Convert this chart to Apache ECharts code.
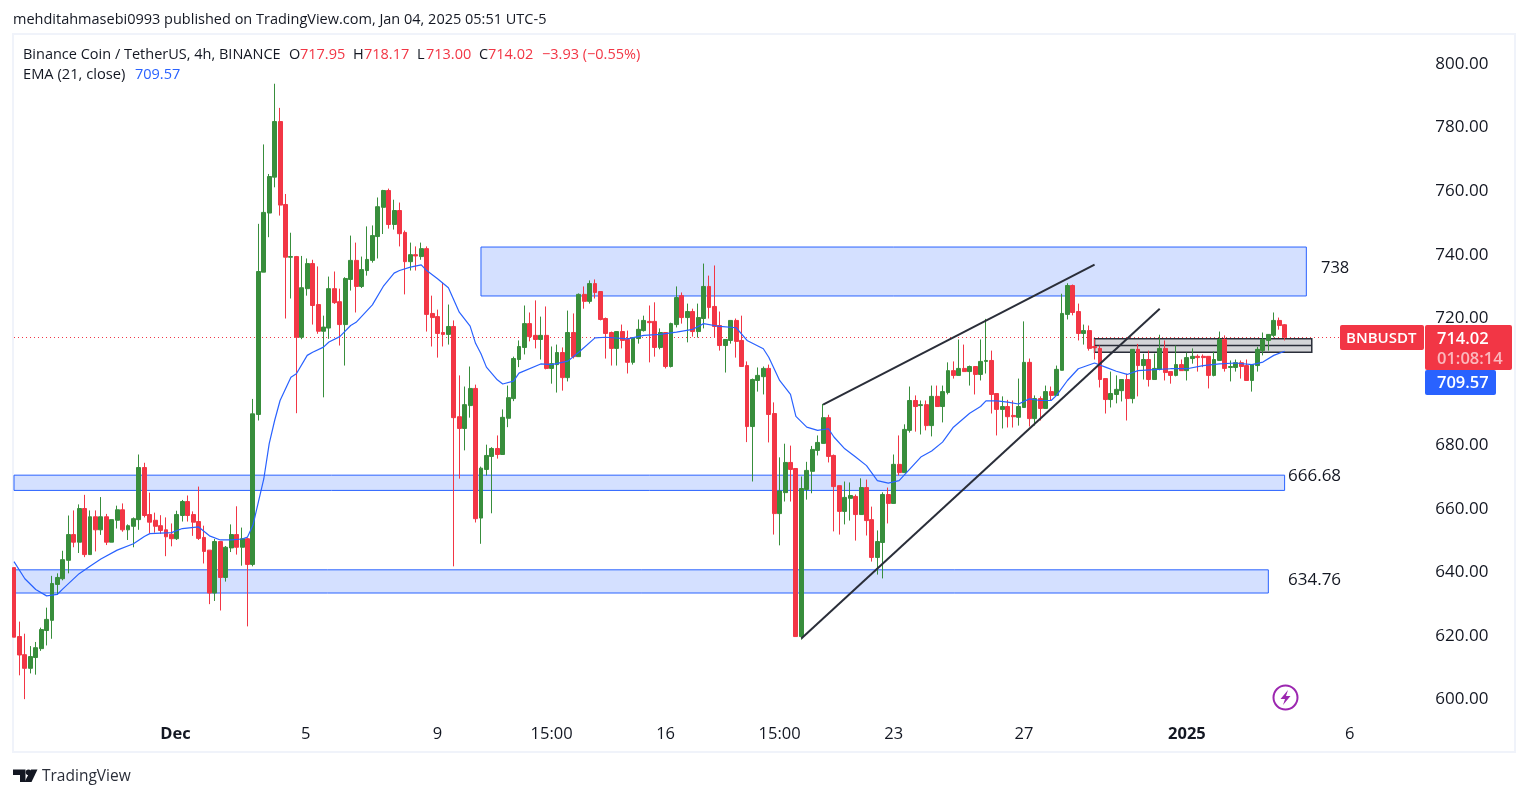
<!DOCTYPE html>
<html>
<head>
<meta charset="utf-8">
<style>html,body{margin:0;padding:0;background:#fff}#c{width:1529px;height:798px}</style>
<script src="https://cdn.jsdelivr.net/npm/echarts@6/dist/echarts.min.js"></script>
</head>
<body>
<div id="c"></div>
<script>
const opens = [
641.5,619.8,614.1,609.8,613.2,616,621.7,624.9,636.2,638,
643.8,651.9,649.5,660.1,645.6,657.5,653.4,657.5,649.5,656.4,
659.7,653.4,654.5,656.6,673,658.2,656.4,654.7,653.4,652,
650.6,657.9,662.3,658.2,656,651,647,633.5,649.7,638.4,
647.7,651.9,647.9,650.6,642.5,689.7,734.5,753.1,764.4,781.9,
755.8,739.2,739.4,714,729.3,737.2,724.3,715.9,716.9,729.3,
725.2,718,732.2,738.2,730,735,738.2,745.7,754.9,760.2,
749.5,753.9,747,737.8,740,739.4,741.9,721.5,720.5,715.5,
714.9,717.4,689,685.3,692.5,697.9,657.1,672.4,676.5,679,
677.1,688.5,694.7,707,710.8,718.3,714.6,713.3,714.6,704.2,
705.4,709.2,701.3,715.5,707.9,727.5,725.3,730.9,728.4,719.9,
715.5,710.5,715.8,713.3,706.1,713.6,716.1,719,719,710.8,
715.5,704.8,718,727.1,720.2,722.1,715.8,719.9,730,723.7,
717.7,711.4,713,719.3,713,705.1,685.9,700.4,701.6,704.2,
690,658.5,665.1,674.6,672.7,619.8,666.1,671.8,678.4,680.6,
688.7,676.8,667.3,659.2,663.3,663.9,658.2,666.7,656.6,644.7,
649.4,664.5,661.7,674,671.4,684.7,694.1,692.5,692.8,686.2,
695.4,692.2,696.6,703.5,702,704.2,703.2,704.8,702.3,706.4,
706.7,696.3,691.3,692.2,689.4,688.8,691.9,706.1,688.4,694.7,
691.6,696.9,695.7,703.6,721.2,730.3,722.1,715.2,716.1,711.1,
710.5,701,694.4,696,697.2,700.7,694.7,710.2,705.1,707,
700.7,703.9,710.5,703.2,702,705.4,703.5,707.3,708,708,
708,702,706.7,713.3,704.5,704.5,706,705.1,700.4,705.1,
709.8,713,714.6,719.3,717.95];
const highs = [
641.5,624.5,620.7,616.8,618.1,622.6,628.9,638.9,639.7,646.8,
657.9,659.5,661.4,664.4,659.5,659.5,663.7,658.4,656.6,661,
661.7,655.1,657.3,677.1,674.5,665.1,658.8,658,657.3,655.4,
659.4,662.8,664.2,659.2,667,654.7,647,650.5,649.7,648.3,
655.1,660.8,654.1,650.9,694.6,749.7,774.7,765.4,793.8,786.2,
759.1,746.9,739.6,739.6,738.8,738.4,736.3,720.8,733.1,734.7,
729.3,732.9,746,743.8,739.4,748.9,749.2,758,760.4,760.8,
757.3,756.4,747.6,743.8,742.6,743.8,742.6,727.1,722.7,731.2,
724.3,719.3,702,698.5,704.8,699.1,673.3,680.2,679.4,683.1,
691.3,698.8,707.9,713,724,721.8,725.6,720.5,723.7,711.1,
711.7,710.8,722.4,721.5,727.8,730,731.9,732.2,728.4,720.2,
715.8,715.8,718,716.1,713.9,719.6,720.8,724,725,716.8,
715.5,718.6,730,728.1,724.6,723,724.6,737.2,733.4,736.6,
722.1,713.3,719.3,719.9,720.8,706.4,701,704.5,704.8,705.4,
693.5,676.2,680.5,679.9,672.7,670.2,674.8,679.8,683.1,693,
689.6,677.1,667.3,668.6,668.3,664.5,669.6,669.2,660.7,653.2,
665.2,666.7,677.1,683.1,686.6,698.5,695.7,694.1,694.1,698.8,
698.8,698.8,706.1,706.4,713.3,711.7,705.1,704.8,713.3,719.8,
709.8,696.3,695.4,694.3,694.1,701,719,707.3,695.7,695.4,
698.8,698.5,705.1,727.7,731,730.6,724.6,718,717.7,713.5,
711.4,701,703.2,702,700.7,702.5,710.2,711.9,708.8,709.8,
708.9,714.8,713,703.2,711.4,707,709.2,710.5,708.6,708.6,
708,709.5,715.8,714.6,706.7,707,706.7,707,705.4,711,
715.5,715,721.8,720.2,718.17];
const lows = [
619.6,607.6,600.1,608.2,607.8,615.3,617,619.1,632.9,637.5,
639.7,647.9,646.1,644.8,645.6,646.6,651.8,648.6,649.5,653.8,
652.8,650.2,647.9,653.4,657.3,652.4,652.5,652.1,645.1,648.2,
650.2,656,656,651.5,650.2,642.8,630,631,628,637.1,
646.4,645.6,642.1,623,641.9,687.8,734.5,745.5,761.2,752.3,
719.9,726.2,690.1,713.4,727.1,718,715.1,695.1,713.5,724.5,
711.4,705.1,728.7,721.8,729.5,733.4,737.5,738.8,746.5,748.2,
747.9,742.6,727.5,735,735,738.4,715.8,711.1,707.6,711.1,
711.7,641.9,669.5,678.4,688.7,655.7,649,670.5,658.6,675.8,
677.1,685.7,693.9,704.6,708.6,712.7,710.5,707,703.9,699.4,
696.6,697.2,700.1,707.3,707.9,723,724.6,726.2,719.3,707.3,
705.1,705.1,710.5,702.6,705.4,712,715.8,706.1,707.9,710.2,
704.2,704.5,717.1,718.3,712.4,714.2,713.9,716.8,719.9,713.9,
709.8,702.9,712,707.6,704.8,681,668.6,696.9,696,680.9,
651.9,648.5,662.3,662.3,619.8,618.8,662.9,664.9,676.8,680.6,
674.6,652.9,651.9,655.1,656.3,650,658.2,651.6,643.4,639.3,
638.1,655.4,661.7,670.5,671.4,684,684.3,683.4,684.7,682.8,
692.2,687.2,696,701,702,703.2,698.8,696,700.4,702.6,
690,683.1,685.3,685.6,685.6,686.2,691.9,685.9,686.2,687.8,
691.6,694.1,695.7,703.6,719.6,720.9,713,711.7,709.8,707,
698.2,690,691.9,693.2,693.8,687.8,693.2,695.4,700.7,698.5,
700.7,703.6,700.4,699.4,701.7,703.5,700.4,705.7,703.2,704.6,
697.9,701.7,706.7,703.2,700.1,703.2,701,700.4,696.9,703.2,
708.3,709.8,714,716.4,713];
const closes = [
619.6,614,609.8,613.5,616.3,622,625.2,636.5,638.4,644,
651.9,649.5,660.1,645.6,657.5,653.4,657.5,649.5,656.6,659.7,
653.4,654.7,656.9,673,657.9,655.8,654.5,653.2,651.2,650.6,
658.2,662.3,657.9,655.8,650.7,646.6,633.5,649.7,638.4,647.9,
651.9,647.9,650.6,642.5,689.9,734.7,753.3,764.6,781.9,755.6,
739.2,739.4,714,729.6,737.2,724,715.9,717.2,729.3,724.9,
718,732.5,738.2,730,735.3,738.5,746,755.1,760.2,749.5,
753.9,746.6,737.8,740,739.6,741.9,721.2,720.2,715.2,714.9,
717.4,688.7,685.3,692.8,697.9,656.9,672.8,676.8,679,677.1,
688.8,695,707.3,711.1,718.3,714.2,713.3,714.6,704.2,705.7,
709.2,701.3,715.5,707.9,727.5,725.3,730.9,728.1,719.6,715.2,
710.5,715.8,713,706.1,713.9,716.5,719.3,718.6,710.8,715.5,
704.8,718.3,726.5,720.2,722.1,715.8,720.2,730,723.4,717.4,
711.4,713.3,719.3,712.7,704.8,685.9,700.7,702,704.2,689.7,
658.5,665.6,674.6,672.4,619.8,666.4,672.1,678.7,680.9,688.7,
676.5,667,659.2,663.6,664.2,658.2,666.7,656.3,644.7,649.7,
664.5,661.7,674,671.4,685,694.1,692.2,692.8,686.2,695.4,
692.2,696.9,703.5,702,704.2,703.2,704.8,702.3,706.4,706.7,
696,691.3,692.2,689,689,692.2,706.1,688.4,694.7,691.6,
696.9,695.7,703.9,721.5,730.3,721.8,715.2,716.1,710.5,710.7,
700.7,694.4,696.3,697.6,700.7,694.7,710.2,705.1,707,700.7,
704.2,710.5,702.9,702,705.4,703.5,707.6,708,707.6,707.6,
702,707,713.3,704.2,704.8,706,704.8,700.4,705.4,710.2,
713.3,714.9,719.3,717.7,714.02];

const emaIndex = [0,2,4,6,8,9,12,14,16,19,22,24,25,29,31,34,36,38,40,42,43,44,45,46,47,48,49,51,52,54,55,57,58,60,62,63,66,68,70,71,73,75,76,78,80,82,84,85,86,87,89,90,92,93,97,99,102,104,107,109,113,116,119,122,125,127,130,133,135,138,139,141,143,144,146,148,150,151,153,155,157,159,161,163,165,167,169,171,173,176,178,179,181,183,185,187,189,191,192,194,196,199,201,203,205,207,210,213,216,219,222,225,228,230,232,234];
const emaValue = [643.4,638,634.6,632.6,633.1,634.8,639.6,641.9,644.2,647,649,651.3,652.2,652.5,653.8,654.3,651.5,650.2,650.2,650.5,651.1,654.8,662.1,669.4,680.5,687.8,694.1,701.4,702.5,708.3,709.3,710.9,712.5,714.2,717.7,718.7,724.2,730,734.2,735,736.1,736.8,735,732.4,729.6,721.9,717.5,712.1,708.8,704.6,700.6,699.3,700.2,702.7,705.6,705.4,706.5,709.3,713.8,714,713.5,714.6,714.9,715.6,716.5,718.3,717.4,717,713,710.4,707.7,700.4,696,689.1,685.7,684.7,685.2,682.6,678.9,676.3,673.6,668.9,668.1,668.9,672.6,676.3,678.2,681,685.7,690.1,692.2,694,694,693.6,693,694.6,694.1,694.1,695.7,700.4,704.1,705.9,704.6,703.3,702.3,703.5,703.8,704.1,704.1,705.1,705.6,705.9,705.4,706.2,708.3,709.6];

const timeTickIndex = [30,54,78,99,120,141,162,186,216,246];
const timeTickLabel = ['Dec','5','9','15:00','16','15:00','23','27','2025','6'];
const slotCount = 260;
const lastPrice = 714.02;
const blueZones = [[86,742.4,238,727],[0,670.6,234,665.8],[0,640.8,231,633.5]];
const grayZone = [199,713.5,239,709.3];
const grayMid = [[199,711.4],[239,711.4]];
const trendLower = [[145,619.2],[211,723]];
const trendUpper = [[149,692.8],[199,736.9]];

const FONT = '"Open Sans", "Noto Sans", sans-serif';
const categories = Array.from({length: slotCount}, (_, i) => {
  const k = timeTickIndex.indexOf(i);
  return k >= 0 ? timeTickLabel[k] : '';
});
const candles = opens.map((o, i) => [o, closes[i], lows[i], highs[i]]);
const ema = emaIndex.map((x, i) => [x, emaValue[i]]);
const GREEN = '#388e3c', RED = '#f23645', BLUE = '#2962ff', INK = '#131722';

function txt(x, y, text, fill, size, weight, align) {
  return {type: 'text', z: 100, x, y, style: {text, fill, font: (weight || 'normal') + ' ' + (size || 14) + 'px ' + FONT, textAlign: align || 'left', textVerticalAlign: 'middle'}};
}
function box(x, y, w, h, fill, r) {
  return {type: 'rect', z: 99, shape: {x, y, width: w, height: h, r: r || 0}, style: {fill}};
}
const HEAD = 14.5;
const graphics = [
  {type:'rect', z:0, shape:{x:13,y:34,width:1502,height:718}, style:{fill:'none',stroke:'#f0f3fa',lineWidth:2}},
  txt(13,20,'mehditahmasebi0993 published on TradingView.com, Jan 04, 2025 05:51 UTC-5',INK,HEAD),
  txt(23,55,'Binance Coin / TetherUS, 4h, BINANCE',INK,HEAD),
  txt(289,55,'O',INK,HEAD), txt(300,55,'717.95',RED,HEAD),
  txt(353,55,'H',INK,HEAD), txt(364,55,'718.17',RED,HEAD),
  txt(417,55,'L',INK,HEAD), txt(426,55,'713.00',RED,HEAD),
  txt(479,55,'C',INK,HEAD), txt(488,55,'714.02',RED,HEAD),
  txt(542,55,'\u22123.93 (\u22120.55%)',RED,HEAD),
  txt(23,75,'EMA (21, close)',INK,HEAD+0.2), txt(135,75,'709.57',BLUE,HEAD),
  txt(1321,268,'738',INK,16.5), txt(1288,476,'666.68',INK,17), txt(1288,580,'634.76',INK,17),
  box(1340,325,84,25,RED,2), txt(1346,339,'BNBUSDT','#fff',15,'600'),
  box(1425,325,87,45,RED,2), txt(1437,339,'714.02','#fff',16.5,'600'),
  txt(1437,359,'01:08:14','rgba(255,255,255,0.65)',16.5,'600'),
  box(1425,370,71,25,BLUE,2), txt(1437,383,'709.57','#fff',16.5,'600'),
  {type:'circle', z:99, shape:{cx:1285.5,cy:697.5,r:12}, style:{fill:'#fff',stroke:'#9c27b0',lineWidth:2}},
  {type:'polygon', z:100, shape:{points:[[1288,690],[1280.5,699],[1285,699],[1283,705],[1290.5,696],[1286,696]]}, style:{fill:'#9c27b0'}},
  {type:'polygon', z:100, shape:{points:[[13,769.5],[25.5,769.5],[25.5,782],[20,782],[20,775],[13,775]]}, style:{fill:INK}},
  {type:'circle', z:100, shape:{cx:28.5,cy:772.3,r:2.8}, style:{fill:INK}},
  {type:'polygon', z:100, shape:{points:[[31,769.5],[37.5,769.5],[31.5,782],[24.5,782]]}, style:{fill:INK}},
  txt(42,777,'TradingView','#2a2e39',15.5)
];
const zoneStyle = {color:'rgba(41,98,255,0.2)',borderColor:BLUE,borderWidth:1};

const chart = echarts.init(document.getElementById('c'), null, {renderer:'canvas'});
chart.setOption({
  animation:false,
  backgroundColor:'#fff',
  grid:{left:14,top:0.5,width:(slotCount-1)*5.43,height:762.5,containLabel:false},
  xAxis:{type:'category',data:categories,boundaryGap:false,
    axisLine:{show:false},axisTick:{show:false},splitLine:{show:false},
    axisLabel:{inside:true,margin:20,interval:0,color:INK,fontFamily:FONT,fontSize:16.5,
      formatter:v=>v==='Dec'?'{b|'+v+'}{s|}':v==='5'?v+'{s|}':v==='2025'?'{b|'+v+'}':v,
      rich:{b:{fontWeight:'bold',fontFamily:FONT,fontSize:16.5,color:INK},s:{width:3}}}},
  yAxis:{type:'value',position:'right',min:580,max:820,interval:20,scale:true,
    axisLine:{show:false},axisTick:{show:false},splitLine:{show:false},
    axisLabel:{margin:15,color:INK,fontFamily:FONT,fontSize:17,showMinLabel:false,showMaxLabel:false,
      padding:[2,0,0,0],formatter:v=>v.toFixed(2)}},
  graphic:graphics,
  series:[
    {type:'candlestick',name:'BNBUSDT',data:candles,barWidth:4.4,z:3,
      itemStyle:{color:GREEN,color0:RED,borderColor:GREEN,borderColor0:RED,borderWidth:1},
      markArea:{silent:true,z:1,data:[
        ...blueZones.map(b=>[{xAxis:b[0],yAxis:b[1],itemStyle:zoneStyle},{xAxis:b[2],yAxis:b[3]}]),
        [{xAxis:grayZone[0],yAxis:grayZone[1],itemStyle:{color:'rgba(120,123,134,0.32)',borderColor:'#2a2e39',borderWidth:1.5}},{xAxis:grayZone[2],yAxis:grayZone[3]}]
      ]},
      markLine:{silent:true,symbol:'none',z:2,label:{show:false},
        lineStyle:{color:RED,type:[1,3],width:1},data:[{yAxis:lastPrice}]}
    },
    {type:'line',name:'EMA (21, close)',data:ema,showSymbol:false,z:4,lineStyle:{color:BLUE,width:1.2}},
    {type:'line',name:'Zone mid',data:grayMid,showSymbol:false,z:2,lineStyle:{color:'#2a2e39',width:1.5}},
    {type:'line',name:'Lower trend',data:trendLower,showSymbol:false,z:5,lineStyle:{color:'#2a2e39',width:2}},
    {type:'line',name:'Upper trend',data:trendUpper,showSymbol:false,z:5,lineStyle:{color:'#2a2e39',width:2}}
  ]
});
</script>
</body>
</html>
